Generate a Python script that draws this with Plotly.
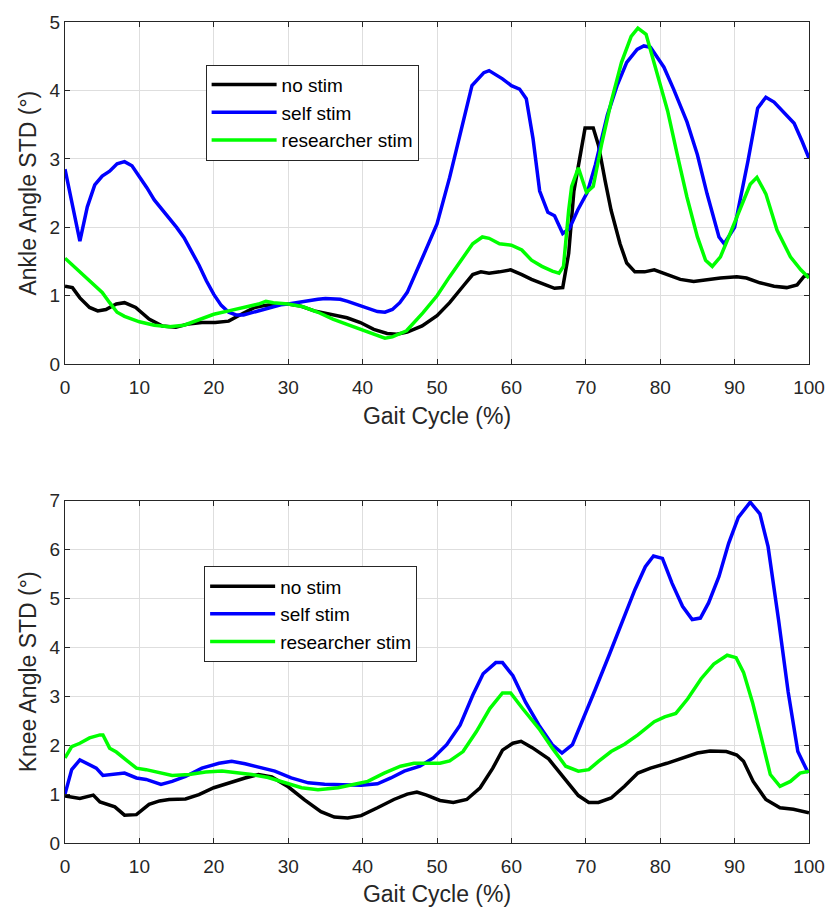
import plotly.graph_objects as go

# ---------------- data ----------------
ankle_no_x = [0, 1, 2, 3.3, 4.4, 5.5, 6.9, 8, 9.5, 11.3, 13.1, 14.9, 16.6, 18.4, 20.2, 22, 23.7, 25.5, 26.9, 28.6,
              30, 31.7, 33.5, 35.7, 37.9, 39.7, 41.5, 43.3, 44.6, 46, 48, 50, 51.7, 53.5, 54.8, 55.9, 57, 58.4, 59.9,
              61.4, 62.7, 64.6, 65.8, 66.9, 67.7, 68.4, 69.2, 69.9, 71, 71.7, 72.6, 73.4, 74.6, 75.5, 76.6, 77.9,
              79.2, 81, 82.7, 84.5, 86.3, 88.1, 90.3, 91.6, 93.4, 95.3, 97, 98.4, 99.3, 100]
ankle_no_y = [1.14, 1.12, 0.97, 0.83, 0.78, 0.8, 0.88, 0.9, 0.83, 0.66, 0.56, 0.54, 0.59, 0.61, 0.61, 0.63, 0.73,
              0.83, 0.86, 0.88, 0.88, 0.85, 0.78, 0.73, 0.68, 0.61, 0.51, 0.45, 0.44, 0.47, 0.56, 0.71, 0.9, 1.14,
              1.31, 1.35, 1.33, 1.35, 1.38, 1.31, 1.24, 1.16, 1.11, 1.12, 1.62, 2.53, 3.06, 3.45, 3.45, 3.2, 2.68,
              2.25, 1.76, 1.48, 1.35, 1.35, 1.38, 1.31, 1.24, 1.21, 1.24, 1.26, 1.28, 1.26, 1.19, 1.14, 1.12, 1.16,
              1.28, 1.31]

ankle_self_x = [0, 1, 2, 3, 4, 5, 6, 7, 8, 9, 10, 11, 12, 13, 14, 15, 16, 17, 18, 19, 20, 21, 22, 23, 24, 25, 26,
                27, 28, 29, 30, 31, 32, 33, 34, 35, 36, 37, 38, 39, 40, 41, 42, 43, 44, 45, 46, 48.1, 50, 51.7,
                53.2, 54.7, 56.3, 57, 58.8, 60, 61.1, 62, 62.9, 63.8, 64.9, 65.8, 66.9, 67.8, 68.9, 70.2, 71.3,
                72.9, 74.2, 75.5, 76.9, 77.8, 78.7, 80.5, 81.8, 83.6, 85, 86.3, 87.9, 88.6, 90, 91.8, 93.1, 94.2,
                95.3, 96.7, 98, 99.1, 100]
ankle_self_y = [2.85, 2.3, 1.8, 2.3, 2.62, 2.75, 2.82, 2.93, 2.96, 2.9, 2.75, 2.58, 2.4, 2.27, 2.13, 2.0, 1.85,
                1.65, 1.45, 1.22, 1.02, 0.86, 0.76, 0.72, 0.72, 0.75, 0.78, 0.82, 0.85, 0.87, 0.88, 0.9, 0.91,
                0.93, 0.95, 0.96, 0.96, 0.95, 0.92, 0.88, 0.84, 0.8, 0.77, 0.76, 0.8, 0.9, 1.05, 1.57, 2.05, 2.73,
                3.4, 4.07, 4.26, 4.29, 4.17, 4.07, 4.02, 3.88, 3.3, 2.53, 2.22, 2.17, 1.91, 1.98, 2.25, 2.51, 2.92,
                3.64, 4.07, 4.41, 4.6, 4.65, 4.63, 4.34, 4.02, 3.54, 3.06, 2.49, 1.86, 1.76, 2.0, 2.97, 3.74, 3.9,
                3.83, 3.66, 3.52, 3.25, 3.01]

ankle_res_x = [0, 1, 2.5, 4, 5, 6, 7, 8, 10, 12, 14, 16, 18, 20, 22, 24, 26, 27, 28, 30, 32, 34, 36, 38, 40, 42,
               43, 44, 45.9, 48.1, 50, 51.7, 53.5, 54.8, 56.1, 57, 58.4, 60, 61.4, 62.7, 64.1, 65.5, 66.4, 67,
               67.7, 68.1, 69, 70.1, 71, 72.1, 73.4, 74.8, 76.1, 77, 78.1, 79.6, 81, 82.3, 83.6, 85, 86.1, 87,
               88.1, 89.4, 90.8, 92.1, 93, 94.2, 95.7, 97.5, 98.9, 100]
ankle_res_y = [1.55, 1.45, 1.3, 1.15, 1.05, 0.9, 0.76, 0.7, 0.62, 0.57, 0.55, 0.57, 0.65, 0.73, 0.78, 0.83, 0.88,
               0.92, 0.9, 0.88, 0.84, 0.76, 0.66, 0.58, 0.5, 0.42, 0.38, 0.4, 0.49, 0.75, 1.0, 1.28, 1.57, 1.76,
               1.86, 1.84, 1.76, 1.74, 1.67, 1.52, 1.43, 1.36, 1.33, 1.43, 2.25, 2.6, 2.87, 2.51, 2.6, 3.2, 3.83,
               4.41, 4.79, 4.91, 4.82, 4.26, 3.7, 3.06, 2.44, 1.86, 1.52, 1.43, 1.57, 1.91, 2.29, 2.63, 2.73, 2.49,
               1.96, 1.57, 1.38, 1.26]

knee_no_x = [0, 2, 3.8, 4.7, 6.7, 8, 9.6, 11.3, 12.7, 14, 16.2, 18, 20, 22, 24.2, 26, 27.8, 30, 32.2, 34.4, 36.2,
             38, 39.8, 42, 44.2, 46, 47.3, 48.6, 50.4, 52.2, 54, 55.8, 57.5, 58.8, 60.2, 61.3, 62.8, 65, 67.3, 69,
             70.4, 71.7, 73.4, 75.2, 77, 78.7, 80.9, 83.2, 85, 86.7, 88.9, 90.3, 91.2, 92.5, 94.2, 96.1, 97.9, 100]
knee_no_y = [0.96, 0.91, 0.98, 0.84, 0.74, 0.57, 0.58, 0.79, 0.86, 0.89, 0.9, 0.99, 1.13, 1.23, 1.33, 1.4, 1.35,
             1.15, 0.88, 0.64, 0.53, 0.51, 0.56, 0.72, 0.89, 1.0, 1.04, 0.98, 0.87, 0.83, 0.89, 1.13, 1.53, 1.9,
             2.04, 2.08, 1.95, 1.72, 1.28, 0.97, 0.83, 0.83, 0.92, 1.16, 1.43, 1.53, 1.63, 1.74, 1.84, 1.88, 1.87,
             1.8, 1.67, 1.26, 0.89, 0.72, 0.69, 0.62]

knee_self_x = [0, 0.9, 2, 3.3, 4.2, 5.1, 6.4, 8, 9.6, 10.9, 12.9, 14.4, 16.2, 18.4, 20.7, 22.4, 24.2, 26.4, 28.2,
               30.4, 32.7, 34.9, 37.6, 39.8, 42, 43.8, 45.6, 47.7, 49.5, 51.3, 53.1, 54.8, 56.2, 57.9, 58.8, 60.2,
               61.9, 63.7, 65.5, 66.8, 68.2, 69.5, 71.3, 73.1, 74.8, 76.6, 78, 79.1, 80.3, 81.6, 83, 84.3, 85.4,
               86.5, 87.9, 89.2, 90.5, 92.1, 93.4, 94.5, 95.9, 97.2, 98.5, 99.9]
knee_self_y = [1.0, 1.5, 1.7, 1.6, 1.53, 1.38, 1.4, 1.43, 1.33, 1.3, 1.2, 1.26, 1.36, 1.53, 1.63, 1.67, 1.62,
               1.53, 1.47, 1.33, 1.23, 1.2, 1.18, 1.18, 1.21, 1.33, 1.47, 1.57, 1.74, 2.01, 2.41, 3.02, 3.46, 3.69,
               3.69, 3.42, 2.88, 2.41, 2.01, 1.84, 2.01, 2.48, 3.15, 3.83, 4.5, 5.18, 5.65, 5.87, 5.82, 5.31, 4.84,
               4.57, 4.6, 4.91, 5.45, 6.13, 6.66, 6.97, 6.73, 6.06, 4.57, 3.09, 1.87, 1.43]

knee_res_x = [0, 0.9, 2, 3.3, 4.7, 5.1, 6, 6.9, 8.2, 9.6, 10.9, 12.7, 14.4, 16.7, 18.9, 21.1, 23.3, 25.1, 27.3,
              29.6, 31.8, 34, 36.7, 38.9, 40.7, 42.9, 45.1, 46.9, 48.1, 50.4, 51.7, 53.5, 55.3, 57.1, 58.8, 59.9,
              61.5, 63.7, 65.5, 67.3, 69, 70.4, 71.7, 73.4, 75.2, 77, 79.2, 80.6, 82.1, 83.7, 85.5, 87.2, 89, 90.2,
              91.2, 92.4, 93.5, 94.8, 96.1, 97.5, 98.8, 100]
knee_res_y = [1.74, 1.97, 2.04, 2.15, 2.21, 2.21, 1.94, 1.86, 1.7, 1.53, 1.5, 1.43, 1.38, 1.4, 1.45, 1.47, 1.43,
              1.4, 1.34, 1.23, 1.13, 1.09, 1.13, 1.2, 1.26, 1.43, 1.57, 1.63, 1.63, 1.63, 1.68, 1.87, 2.28, 2.75,
              3.07, 3.07, 2.75, 2.34, 1.94, 1.57, 1.47, 1.5, 1.67, 1.87, 2.02, 2.21, 2.48, 2.58, 2.65, 2.95, 3.36,
              3.66, 3.84, 3.79, 3.49, 2.88, 2.21, 1.4, 1.16, 1.26, 1.43, 1.47]

series_names = ["no stim", "self stim", "researcher stim"]
series_colors = ["#000000", "#0000ff", "#00ff00"]
x_ticks = list(range(0, 101, 10))
ankle_ticks = list(range(0, 6))
knee_ticks = list(range(0, 8))

# ---------------- figure ----------------
FONT = "Liberation Sans, Arial, Helvetica, sans-serif"
TXT = "#262626"
LW = 3.5

fig = go.Figure()
top = [(ankle_no_x, ankle_no_y), (ankle_self_x, ankle_self_y), (ankle_res_x, ankle_res_y)]
bot = [(knee_no_x, knee_no_y), (knee_self_x, knee_self_y), (knee_res_x, knee_res_y)]
for (xs, ys), name, col in zip(top, series_names, series_colors):
    fig.add_trace(go.Scatter(x=xs, y=ys, mode="lines", name=name, line=dict(color=col, width=LW),
                             xaxis="x", yaxis="y", legend="legend"))
for (xs, ys), name, col in zip(bot, series_names, series_colors):
    fig.add_trace(go.Scatter(x=xs, y=ys, mode="lines", name=name, line=dict(color=col, width=LW),
                             xaxis="x2", yaxis="y2", legend="legend2"))

axis_common = dict(showline=True, linecolor=TXT, linewidth=1, mirror="allticks", ticks="inside",
                   ticklen=5, tickcolor=TXT, showgrid=True, gridcolor="#dedede", gridwidth=1,
                   zeroline=False, tickfont=dict(family=FONT, size=19, color=TXT))

xt = dict(text="Gait Cycle (%)", font=dict(family=FONT, size=23, color=TXT), standoff=10)
yfont = dict(family=FONT, size=23, color=TXT)
legend_common = dict(xanchor="left", yanchor="top", bgcolor="white", bordercolor=TXT, borderwidth=1,
                     font=dict(family=FONT, size=19, color="#000000"), tracegroupgap=0, itemwidth=65)
fig.update_layout(
    width=837, height=915,
    margin=dict(l=65, r=21, t=16, b=69),
    paper_bgcolor="white", plot_bgcolor="white",
    xaxis=dict(domain=[0, 1], anchor="y", range=[0, 100], tickvals=x_ticks, title=xt,
               ticklabelstandoff=6, **axis_common),
    yaxis=dict(domain=[0.5831, 1], anchor="x", range=[0, 5], tickvals=ankle_ticks,
               title=dict(text="Ankle Angle STD (°)", font=yfont, standoff=6), **axis_common),
    xaxis2=dict(domain=[0, 1], anchor="y2", range=[0, 100], tickvals=x_ticks, title=xt,
                ticklabelstandoff=6, **axis_common),
    yaxis2=dict(domain=[0, 0.4169], anchor="x2", range=[0, 7], tickvals=knee_ticks,
                title=dict(text="Knee Angle STD (°)", font=yfont, standoff=6), **axis_common),
    legend=dict(x=0.189, y=0.948, **legend_common),
    legend2=dict(x=0.187, y=0.337, **legend_common),
    showlegend=True,
)

fig.write_html("out.html")
